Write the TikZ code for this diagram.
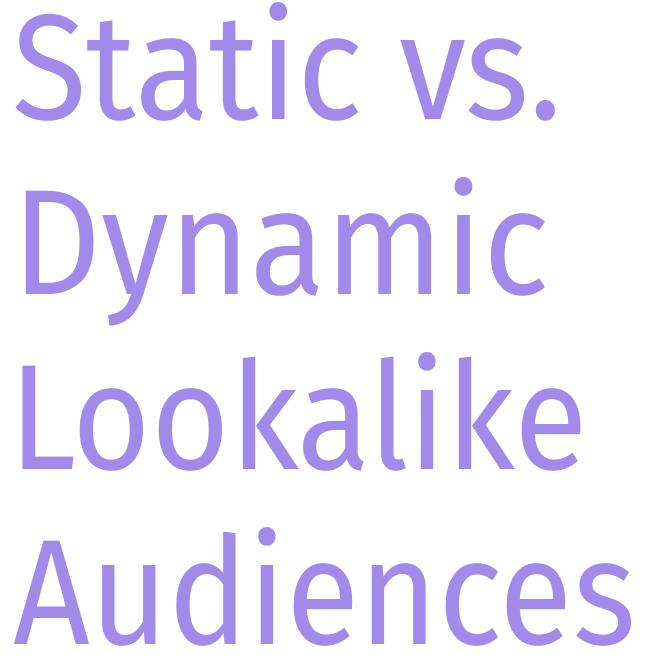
\documentclass[tikz,border=0pt]{standalone}
\usepackage{fontspec}
\setmainfont{Fira Sans}
\definecolor{titlepurple}{HTML}{A08BEA}
\newcommand{\narrowtext}[2]{\scalebox{#1}[1]{#2}}
\begin{document}
\begin{tikzpicture}[x=1pt,y=1pt,
  titleline/.style={anchor=base west,inner sep=0pt,text=titlepurple,font=\fontsize{150}{150}\selectfont}]
\useasboundingbox (0,0) rectangle (649,655);
\node[titleline] (l1) at (12,535) {\narrowtext{0.912}{Static vs.}};
\node[titleline] (l2) at (12,360) {\narrowtext{0.922}{Dynamic}};
\node[titleline] (l3) at (9,185) {\narrowtext{0.898}{Lookalike}};
\node[titleline] (l4) at (13,10) {\narrowtext{0.895}{Audiences}};
\end{tikzpicture}
\end{document}
